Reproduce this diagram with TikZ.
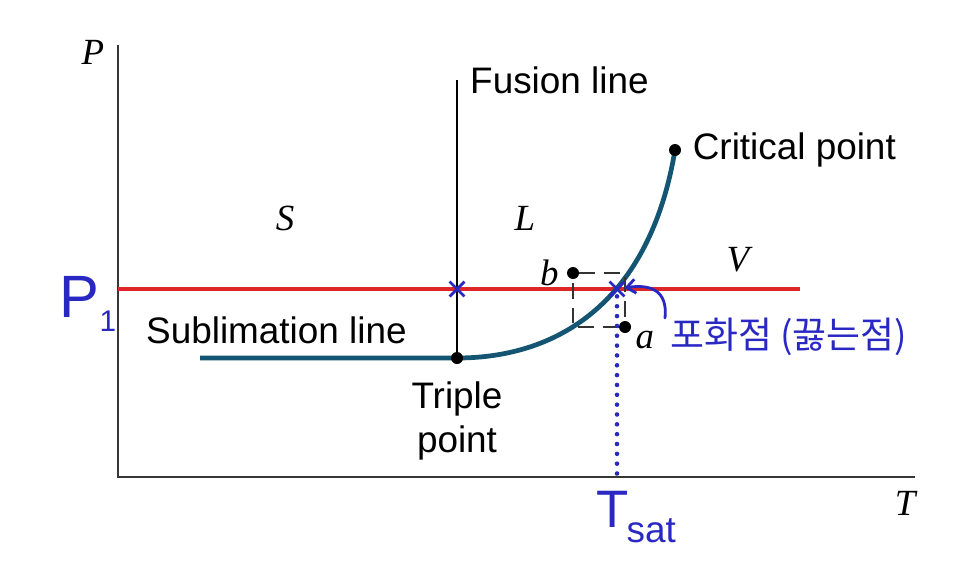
\documentclass[tikz,border=0pt]{standalone}
\usepackage{fontspec}
\setmainfont{Liberation Serif}
\setsansfont{Liberation Sans}
\newfontfamily\hangul{Noto Sans CJK KR}
\usetikzlibrary{arrows.meta,positioning,shapes.misc}
\definecolor{curveteal}{RGB}{20,85,115}
\definecolor{penblue}{RGB}{42,40,195}
\definecolor{satred}{RGB}{222,38,38}
\definecolor{axisgray}{RGB}{55,55,55}

\begin{document}
\begin{tikzpicture}[
    x=0.02cm, y=-0.02cm,
    >=Latex,
    font=\fontsize{20}{24}\selectfont,
    lbl/.style={font=\fontsize{21}{25}\selectfont\sffamily},
    phase/.style={font=\fontsize{21}{24}\selectfont\itshape},
    dot/.style={circle, fill=black, inner sep=0pt, minimum size=0.24cm},
    xmark/.style={cross out, draw=penblue, line width=1.6pt, inner sep=0pt, minimum size=0.24cm},
    pen/.style={penblue, line width=1.6pt, line cap=round},
    satcurve/.style={curveteal, line width=2.7pt},
    boxdash/.style={black!80, line width=0.9pt, dash pattern=on 9pt off 5pt}
]
\useasboundingbox (0,0) rectangle (966,582);

\coordinate (origin) at (118,477);
\coordinate (ptop) at (118,45);
\coordinate (tend) at (915,477);
\coordinate (ftop) at (457,80);
\coordinate (triple) at (457,358);
\coordinate (crit) at (675,150);
\coordinate (sleft) at (200,358);
\coordinate (pleft) at (118,289);
\coordinate (pright) at (800,289);
\coordinate (satpt) at (617,289);
\coordinate (tfoot) at (617,477);

% axes, lines and the saturation curve
\draw[axisgray, line width=1.4pt] (ptop) -- (origin) -- (tend);
\draw[line width=0.9pt] (ftop) -- (triple);
\draw[satred, line width=1.8pt] (pleft) -- (pright);
\draw[satcurve] (sleft) -- (triple) .. controls (560,358) and (650,300) .. (crit);

\node[dot] (tp) at (triple) {};
\node[dot] (cp) at (crit) {};
\node[dot] (b) at (573,273) {};
\node[dot] (a) at (625,327) {};
\draw[boxdash] (b) -| (a) -| (b);

\node[phase] (P) at (93,52) {P};
\node[phase] (T) at (905,503) {T};
\node[phase] (S) at (285,218) {S};
\node[phase] (L) at (525,218) {L};
\node[phase] (V) at (738,260) {V};
\node[phase, left=1pt of b] (blbl) {b};
\node[phase, below right=-4pt and 0pt of a] (albl) {a};

\node[lbl, right=4pt of ftop] (fusion) {Fusion line};
\node[lbl, right=3pt of cp] (critlbl) {Critical point};
\node[lbl, anchor=west] (sublim) at (140,330) {Sublimation line};
\node[lbl, align=center, below=0.22cm of tp] (triplelbl) {Triple\\point};

% handwritten notes
\node[xmark] (x1) at (457,289) {};
\node[xmark] (x2) at (satpt) {};
\draw[penblue, line width=2.6pt, line cap=round, dash pattern=on 0pt off 5.6pt] (x2) -- (tfoot);
\draw[pen, -{Straight Barb[length=5pt,width=8pt]}] (665,318) .. controls (668,290) and (650,284) .. (x2);
\node[penblue, font=\fontsize{34}{38}\selectfont\sffamily, inner sep=1pt] (p1) at (88,304) {P\raisebox{-8pt}{\fontsize{17}{20}\selectfont 1}};
\node[penblue, font=\fontsize{30}{34}\selectfont\sffamily] (tsat) at (636,517) {T\kern-1pt\raisebox{-9pt}{\fontsize{21}{24}\selectfont sat}};
\node[penblue, font=\fontsize{21}{26}\selectfont\hangul, anchor=west] (boil) at (664,337) {포화점 (끓는점)};
\end{tikzpicture}
\end{document}
